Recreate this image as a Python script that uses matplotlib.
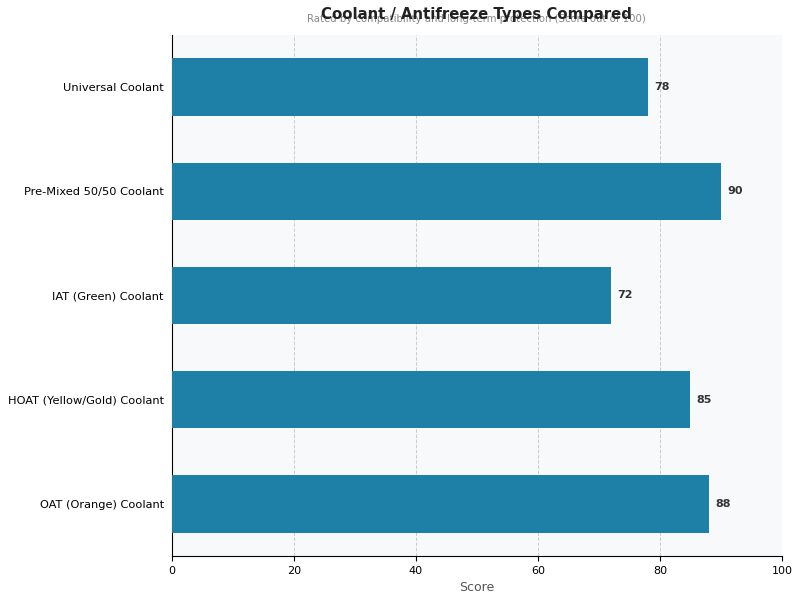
import matplotlib
matplotlib.use("Agg")
import matplotlib.pyplot as plt

categories = [
    "OAT (Orange) Coolant",
    "HOAT (Yellow/Gold) Coolant",
    "IAT (Green) Coolant",
    "Pre-Mixed 50/50 Coolant",
    "Universal Coolant",
]
scores = [88, 85, 72, 90, 78]

BAR_COLOR = "#1e80a6"


def main():
    fig = plt.figure(figsize=(8, 6), dpi=100)
    ax = fig.add_axes([0.215, 0.0733, 0.7625, 0.8684])
    ax.set_facecolor("#f8f9fb")

    y = list(range(len(categories)))
    ax.barh(y, scores, height=0.55, color=BAR_COLOR, zorder=3)
    for yi, v in zip(y, scores):
        ax.text(v + 1, yi, str(v), va="center", ha="left", fontsize=8,
                fontweight="bold", color="#333333", zorder=4)

    ax.set_yticks(y)
    ax.set_yticklabels(categories, fontsize=8.2)
    ax.set_xlim(0, 100)
    ax.set_ylim(-0.5, 4.5)
    ax.tick_params(axis="x", labelsize=8)
    ax.tick_params(axis="y", length=0, pad=5.8)
    ax.set_xlabel("Score", fontsize=9, color="#555555")

    ax.grid(axis="x", linestyle="--", color="#cccccc", linewidth=0.7, zorder=0)
    for side in ["top", "right"]:
        ax.spines[side].set_visible(False)

    # subtitle sits under the title, the way the original does it
    fig.text(0.596, 0.969, "Rated by compatibility and long-term protection (Score out of 100)",
             ha="center", va="center", fontsize=7.3, color="#888888")
    fig.text(0.596, 0.976, "Coolant / Antifreeze Types Compared",
             ha="center", va="center", fontsize=10.7, fontweight="bold", color="#222222")

    fig.savefig("out.png", dpi=100)
    plt.close(fig)


if __name__ == "__main__":
    main()
